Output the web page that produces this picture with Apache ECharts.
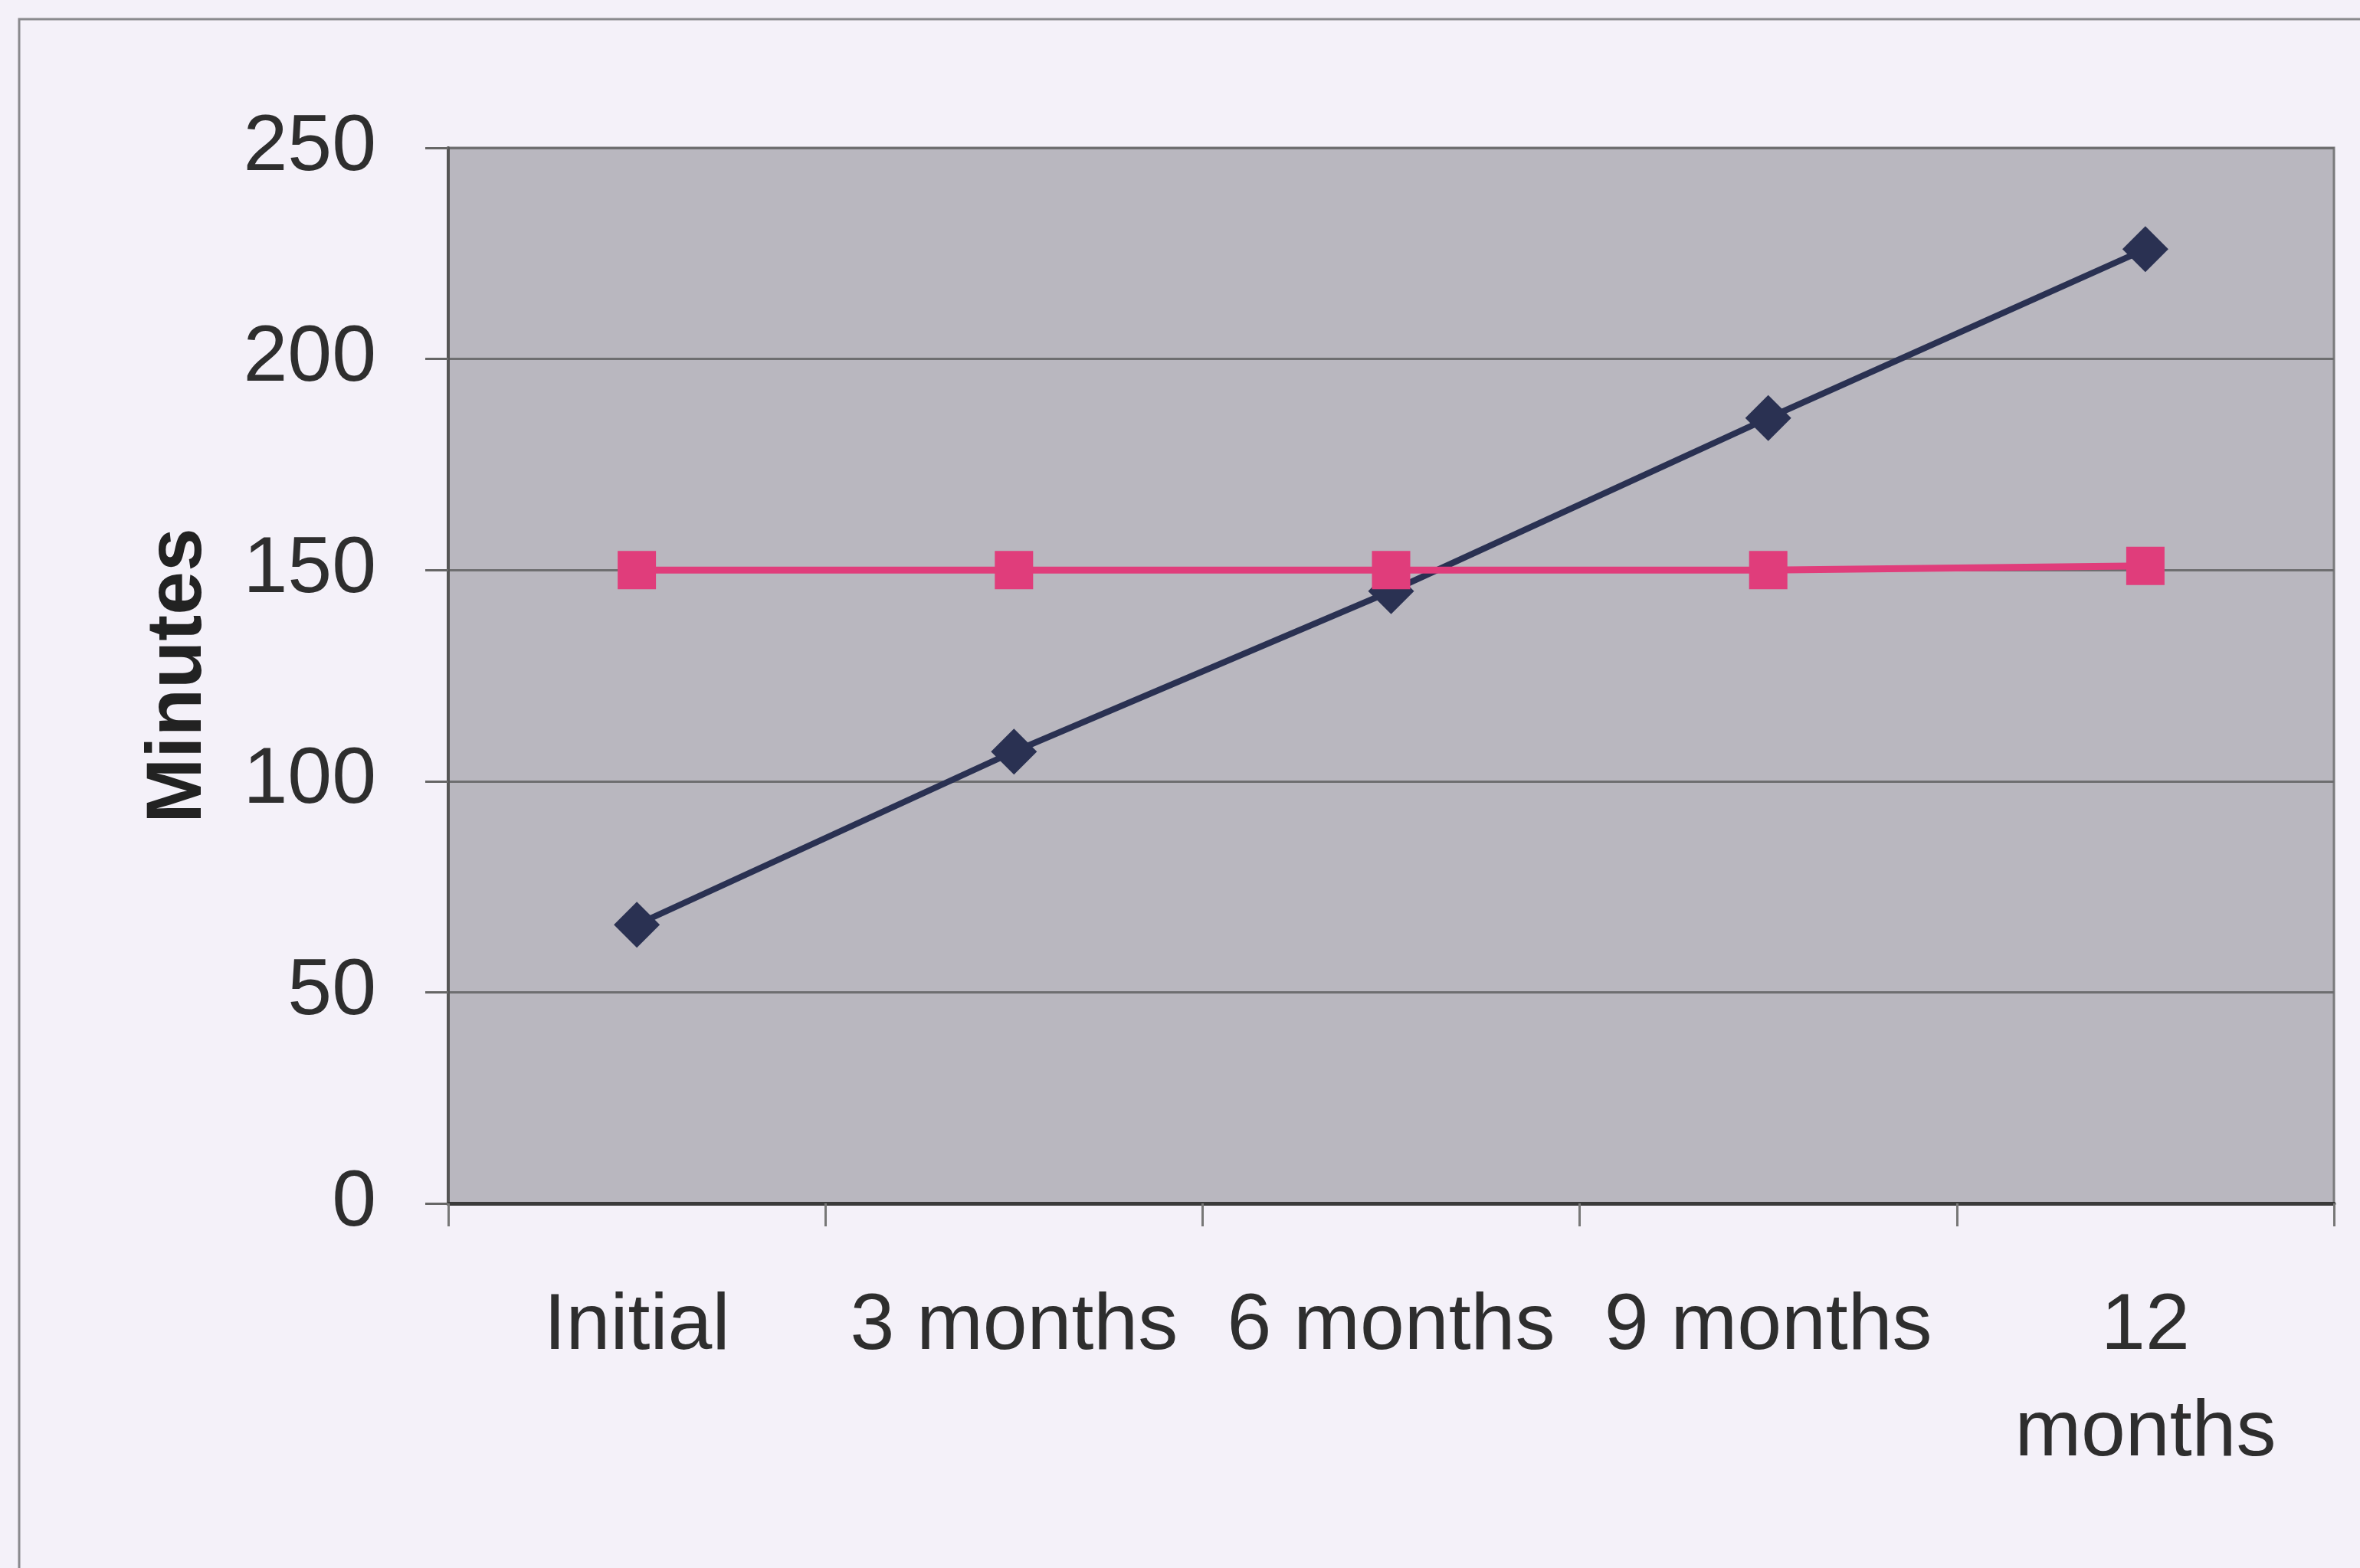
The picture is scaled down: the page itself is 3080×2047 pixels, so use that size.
<!DOCTYPE html>
<html>
<head>
<meta charset="utf-8">
<script src="https://cdn.jsdelivr.net/npm/echarts@6/dist/echarts.min.js"></script>
<style>
  html, body { margin: 0; padding: 0; background: #f4f1f9; }
  #chart { width: 3080px; height: 2047px; }
</style>
</head>
<body>
<div id="chart"></div>
<script>
const categories = ['Initial', '3 months', '6 months', '9 months', '12 months'];
const actualMinutes = [66, 107, 145, 186, 226];
const targetMinutes = [150, 150, 150, 150, 151];
const yTicks = { min: 0, max: 250, interval: 50 };
const yAxisTitle = 'Minutes';

const chart = echarts.init(document.getElementById('chart'), null, { renderer: 'canvas' });
const font = 'Liberation Sans, Arial, sans-serif';

chart.setOption({
  backgroundColor: '#f4f1f9',
  animation: false,
  graphic: [{
    type: 'rect',
    shape: { x: 25, y: 25, width: 3200, height: 2200 },
    style: { fill: 'none', stroke: '#8a8a8e', lineWidth: 3 },
    silent: true,
    z: -1
  }],
  grid: {
    left: 585, right: 34, top: 193, bottom: 476,
    show: true,
    backgroundColor: '#b9b7bf',
    borderColor: '#7a7a7c',
    borderWidth: 3
  },
  xAxis: {
    type: 'category',
    data: categories,
    boundaryGap: true,
    axisLine: { show: true, lineStyle: { color: '#3a3a3a', width: 5 } },
    axisTick: { show: true, length: 30, lineStyle: { color: '#777', width: 3 } },
    axisLabel: {
      interval: 0,
      color: '#2e2e2e',
      fontFamily: font,
      fontSize: 104,
      lineHeight: 139,
      margin: 92,
      align: 'center',
      formatter: function (v) { return v.length > 8 ? v.replace(' ', '\n') : v; }
    },
    splitLine: { show: false }
  },
  yAxis: {
    type: 'value',
    min: yTicks.min,
    max: yTicks.max,
    interval: yTicks.interval,
    name: yAxisTitle,
    nameLocation: 'middle',
    nameGap: 300,
    nameTextStyle: {
      color: '#222',
      fontFamily: font,
      fontSize: 102,
      fontWeight: 'bold'
    },
    axisLine: { show: true, lineStyle: { color: '#555', width: 4 } },
    axisTick: { show: true, length: 30, lineStyle: { color: '#666', width: 3 } },
    axisLabel: {
      color: '#2e2e2e',
      fontFamily: font,
      fontSize: 104,
      margin: 94
    },
    splitLine: { show: true, lineStyle: { color: '#6e6e70', width: 3 } }
  },
  series: [
    {
      name: 'Actual',
      type: 'line',
      data: actualMinutes,
      symbol: 'diamond',
      symbolSize: [60, 60],
      lineStyle: { color: '#2a3152', width: 8 },
      itemStyle: { color: '#2a3152' },
      z: 3
    },
    {
      name: 'Target',
      type: 'line',
      data: targetMinutes,
      symbol: 'rect',
      symbolSize: 50,
      lineStyle: { color: '#e03d7b', width: 9 },
      itemStyle: { color: '#e03d7b' },
      z: 4
    }
  ]
});
</script>
</body>
</html>
